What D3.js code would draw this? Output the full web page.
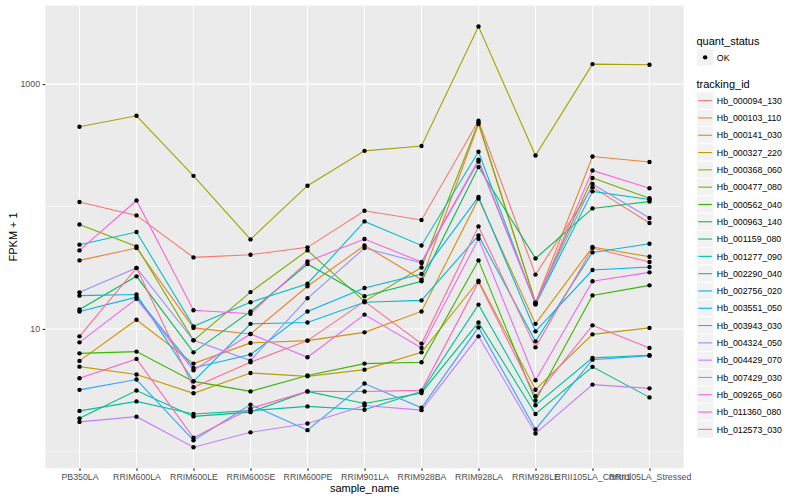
<!DOCTYPE html>
<html>
<head>
<meta charset="utf-8">
<script src="https://cdn.jsdelivr.net/npm/d3@7"></script>
<style>
  body { margin: 0; background: #fff; }
  svg { display: block; font-family: "Liberation Sans", Arial, sans-serif; }
</style>
</head>
<body>
<div id="chart"></div>
<script>
// samples on the x axis
const sampleNames = ["PB350LA", "RRIM600LA", "RRIM600LE", "RRIM600SE", "RRIM600PE",
    "RRIM901LA", "RRIM928BA", "RRIM928LA", "RRIM928LE", "RRII105LA_Control", "RRII105LA_Stressed"];

const trackingIds = ["Hb_000094_130", "Hb_000103_110", "Hb_000141_030", "Hb_000327_220",
    "Hb_000368_060", "Hb_000477_080", "Hb_000562_040", "Hb_000963_140", "Hb_001159_080",
    "Hb_001277_090", "Hb_002290_040", "Hb_002756_020", "Hb_003551_050", "Hb_003943_030",
    "Hb_004324_050", "Hb_004429_070", "Hb_007429_030", "Hb_009265_060", "Hb_011360_080",
    "Hb_012573_030"];

const quantStatus = ["OK"];

// FPKM + 1, one value per sample
const hb_000094_130 = [109, 84.6, 38.4, 40.4, 46.4, 92.4, 77.6, 502, 27.8, 144, 73.3];
const hb_000103_110 = [36.3, 45.8, 10.2, 9.1, 22.3, 48.1, 25.3, 472, 16.4, 256, 231];
const hb_000141_030 = [5.48, 11.9, 5.21, 7.69, 8.03, 9.38, 13.9, 116, 11.0, 46.7, 38.9];
const hb_000327_220 = [4.92, 4.24, 2.98, 4.37, 4.10, 4.65, 6.44, 24.8, 3.19, 9.03, 10.2];
const hb_000368_060 = [448, 551, 178, 53.9, 148, 285, 312, 2953, 261, 1457, 1438];
const hb_000477_080 = [71.4, 47.2, 8.07, 20.0, 43.8, 16.8, 31.8, 486, 16.4, 171, 117];
const hb_000562_040 = [6.32, 6.53, 3.73, 3.09, 4.16, 5.21, 5.34, 36.3, 2.60, 18.8, 22.7];
const hb_000963_140 = [14.4, 26.9, 6.44, 13.9, 33.9, 18.5, 24.5, 210, 37.7, 96.5, 110];
const hb_001159_080 = [1.86, 3.14, 1.93, 2.09, 3.09, 2.46, 3.00, 11.3, 2.02, 4.90, 2.76];
const hb_001277_090 = [2.14, 2.56, 2.02, 2.15, 2.33, 2.19, 3.08, 15.8, 2.38, 5.80, 6.09];
const hb_002290_040 = [48.8, 61.9, 10.5, 16.5, 23.4, 75.6, 48.1, 280, 15.8, 133, 114];
const hb_002756_020 = [18.7, 19.1, 3.73, 11.0, 11.3, 16.5, 17.1, 58.1, 7.92, 42.2, 49.7];
const hb_003551_050 = [13.9, 18.2, 4.80, 6.17, 13.9, 21.6, 28.1, 120, 9.56, 30.3, 32.1];
const hb_003943_030 = [3.18, 3.86, 1.23, 2.41, 1.49, 3.58, 2.27, 10.3, 1.51, 5.61, 6.05];
const hb_004324_050 = [19.9, 31.5, 8.07, 5.51, 17.8, 45.8, 34.6, 233, 16.1, 153, 80.6];
const hb_004429_070 = [1.74, 1.92, 1.08, 1.43, 1.69, 2.37, 2.17, 8.70, 1.40, 3.51, 3.27];
const hb_007429_030 = [7.77, 17.6, 4.59, 9.1, 5.87, 13.1, 7.0, 54.6, 3.81, 24.5, 29.0];
const hb_009265_060 = [43.8, 112, 14.2, 13.3, 35.6, 54.3, 35.2, 241, 16.1, 197, 141];
const hb_011360_080 = [3.95, 5.69, 1.29, 2.24, 3.09, 3.08, 3.15, 24.2, 2.82, 10.7, 7.0];
const hb_012573_030 = [8.70, 31.5, 3.34, 5.34, 8.03, 16.8, 7.59, 68.8, 7.07, 45.8, 35.2];

const seriesValues = [hb_000094_130, hb_000103_110, hb_000141_030, hb_000327_220,
    hb_000368_060, hb_000477_080, hb_000562_040, hb_000963_140, hb_001159_080,
    hb_001277_090, hb_002290_040, hb_002756_020, hb_003551_050, hb_003943_030,
    hb_004324_050, hb_004429_070, hb_007429_030, hb_009265_060, hb_011360_080,
    hb_012573_030];

const yTicks = [10, 1000];
const yMinorTicks = [1, 100];

// ggplot hue palette, 20 levels
const palette = ["#F8766D", "#EA8331", "#D89000", "#C09B00", "#A3A500", "#7CAE00", "#39B600",
    "#00BB4E", "#00BF7D", "#00C1A3", "#00BFC4", "#00BAE0", "#00B0F6", "#35A2FF", "#9590FF",
    "#C77CFF", "#E76BF3", "#FA62DB", "#FF62BC", "#FF6C91"];

const width = 800;
const height = 500;
const panel = { left: 45.3, right: 683.7, top: 5.5, bottom: 468.3 };

const series = trackingIds.map((id, i) => ({
    id: id,
    color: palette[i],
    values: seriesValues[i].map((v, j) => ({ sample: sampleNames[j], value: v }))
}));

const svg = d3.select("#chart")
    .append("svg")
    .attr("width", width)
    .attr("height", height);

let xScale = d3.scalePoint()
    .domain(sampleNames)
    .range([panel.left, panel.right])
    .padding(0.6);

// log range with ggplot's 5% expansion
const allValues = seriesValues.flat();
const lo = Math.log10(d3.min(allValues));
const hi = Math.log10(d3.max(allValues));
const pad = (hi - lo) * 0.05;

let yScale = d3.scaleLog()
    .domain([Math.pow(10, lo - pad), Math.pow(10, hi + pad)])
    .range([panel.bottom, panel.top]);

// panel background
svg.append("rect")
    .attr("x", panel.left)
    .attr("y", panel.top)
    .attr("width", panel.right - panel.left)
    .attr("height", panel.bottom - panel.top)
    .attr("fill", "#EBEBEB");

const grid = svg.append("g");
grid.selectAll(".minor")
    .data(yMinorTicks)
    .enter().append("line")
    .attr("x1", panel.left).attr("x2", panel.right)
    .attr("y1", d => yScale(d)).attr("y2", d => yScale(d))
    .attr("stroke", "#fff").attr("stroke-width", 0.55);
grid.selectAll(".major")
    .data(yTicks)
    .enter().append("line")
    .attr("x1", panel.left).attr("x2", panel.right)
    .attr("y1", d => yScale(d)).attr("y2", d => yScale(d))
    .attr("stroke", "#fff").attr("stroke-width", 1.1);
grid.selectAll(".xgrid")
    .data(sampleNames)
    .enter().append("line")
    .attr("x1", d => xScale(d)).attr("x2", d => xScale(d))
    .attr("y1", panel.top).attr("y2", panel.bottom)
    .attr("stroke", "#fff").attr("stroke-width", 1.1);

const line = d3.line()
    .x(d => xScale(d.sample))
    .y(d => yScale(d.value));

svg.append("g")
    .selectAll("path")
    .data(series)
    .enter().append("path")
    .attr("d", d => line(d.values))
    .attr("fill", "none")
    .attr("stroke", d => d.color)
    .attr("stroke-width", 1.1);

svg.append("g")
    .selectAll("circle")
    .data(series.flatMap(s => s.values))
    .enter().append("circle")
    .attr("cx", d => xScale(d.sample))
    .attr("cy", d => yScale(d.value))
    .attr("r", 2.2)
    .attr("fill", "#000");

// axes
const xAxis = d3.axisBottom(xScale).tickSize(2.75).tickPadding(2.5);
const yAxis = d3.axisLeft(yScale).tickValues(yTicks).tickFormat(d3.format("d")).tickSize(2.75).tickPadding(2.5);

const gx = svg.append("g")
    .attr("transform", `translate(0, ${panel.bottom})`)
    .call(xAxis);
const gy = svg.append("g")
    .attr("transform", `translate(${panel.left}, 0)`)
    .call(yAxis);

[gx, gy].forEach(g => {
    g.select(".domain").remove();
    g.selectAll(".tick line").attr("stroke", "#333333").attr("stroke-width", 1.1);
    g.selectAll(".tick text")
        .attr("fill", "#4D4D4D")
        .style("font-size", "8.8px")
        .style("font-family", "'Liberation Sans', Arial, sans-serif");
});

svg.append("text")
    .attr("x", (panel.left + panel.right) / 2)
    .attr("y", 492)
    .attr("text-anchor", "middle")
    .style("font-size", "11px")
    .text("sample_name");

svg.append("text")
    .attr("transform", `translate(17, ${(panel.top + panel.bottom) / 2}) rotate(-90)`)
    .attr("text-anchor", "middle")
    .style("font-size", "11px")
    .text("FPKM + 1");

// legends
const legendX = 696.5;
const keySize = 17.3;
const legend = svg.append("g");

legend.append("text")
    .attr("x", legendX).attr("y", 44.5)
    .style("font-size", "11px")
    .text("quant_status");

const statusRow = legend.selectAll(".status")
    .data(quantStatus)
    .enter().append("g")
    .attr("transform", (d, i) => `translate(${legendX}, ${48.7 + i * keySize})`);
statusRow.append("rect")
    .attr("width", keySize).attr("height", keySize)
    .attr("fill", "#F2F2F2").attr("stroke", "#fff");
statusRow.append("circle")
    .attr("cx", keySize / 2).attr("cy", keySize / 2)
    .attr("r", 2.2).attr("fill", "#000");
statusRow.append("text")
    .attr("x", keySize + 3).attr("y", keySize / 2 + 3.2)
    .style("font-size", "8.8px")
    .text(d => d);

legend.append("text")
    .attr("x", legendX).attr("y", 88)
    .style("font-size", "11px")
    .text("tracking_id");

const idRow = legend.selectAll(".id")
    .data(series)
    .enter().append("g")
    .attr("transform", (d, i) => `translate(${legendX}, ${92 + i * keySize})`);
idRow.append("rect")
    .attr("width", keySize).attr("height", keySize)
    .attr("fill", "#F2F2F2").attr("stroke", "#fff");
idRow.append("line")
    .attr("x1", 1.7).attr("x2", keySize - 1.7)
    .attr("y1", keySize / 2).attr("y2", keySize / 2)
    .attr("stroke", d => d.color)
    .attr("stroke-width", 1.1);
idRow.append("text")
    .attr("x", keySize + 3).attr("y", keySize / 2 + 3.2)
    .style("font-size", "8.8px")
    .text(d => d.id);
</script>
</body>
</html>
